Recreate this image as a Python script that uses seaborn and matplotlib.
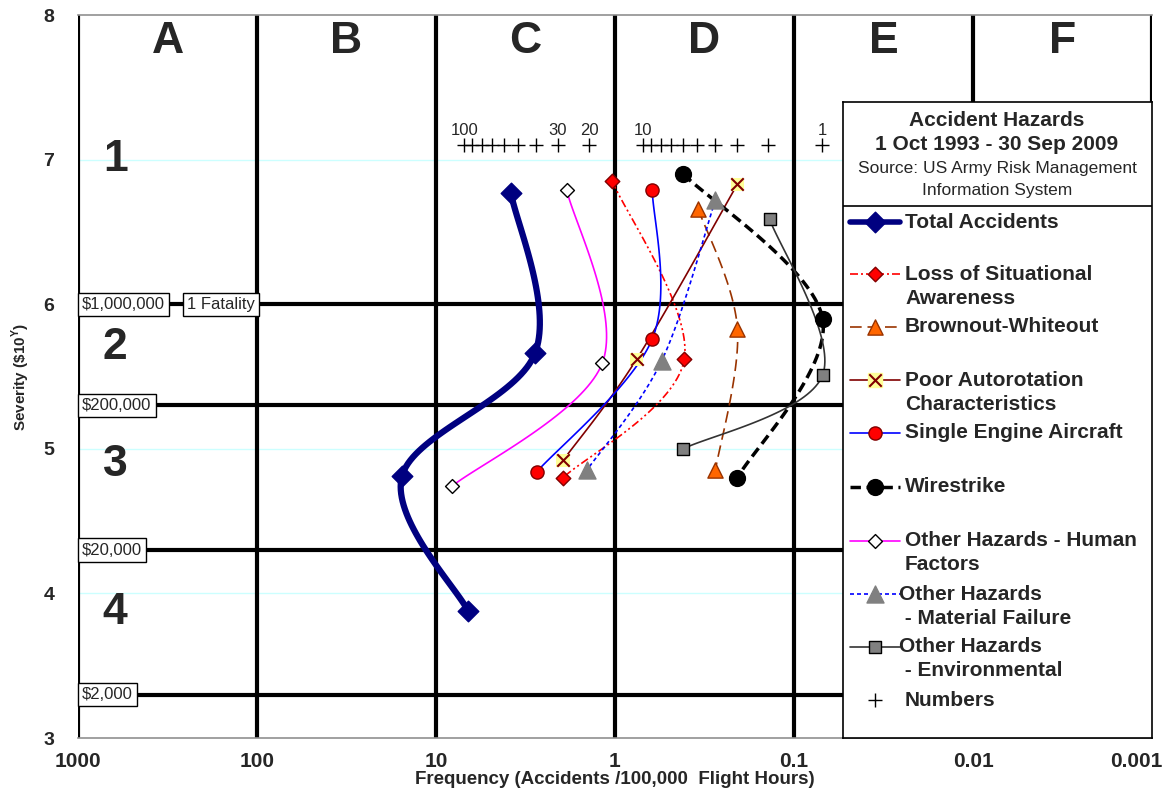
# %%
# === ACCIDENT HAZARDS RISK MATRIX (frequency vs severity) ===
import numpy as np
import matplotlib
matplotlib.use("Agg")
import matplotlib.pyplot as plt
import matplotlib.transforms as mtransforms
import seaborn as sns

sns.set_style("white")
plt.rcParams['font.family'] = 'Liberation Sans'
plt.rcParams['mathtext.fontset'] = 'custom'
plt.rcParams['mathtext.bf'] = 'Liberation Sans:bold'
plt.rcParams['mathtext.rm'] = 'Liberation Sans'

# === DATA ===
# x = frequency (accidents / 100,000 flight hours), y = severity (log10 of $)
total_x = [3.81, 2.80, 15.5, 6.63]
total_y = [6.77, 5.66, 4.81, 3.88]
lsa_x = [1.035, 0.410, 1.95]
lsa_y = [6.85, 5.62, 4.80]
brown_x = [0.343, 0.207, 0.275]
brown_y = [6.66, 5.83, 4.85]
auto_x = [0.207, 0.757, 1.95]
auto_y = [6.83, 5.62, 4.92]
single_x = [0.619, 0.619, 2.74]
single_y = [6.79, 5.76, 4.84]
wire_x = [0.415, 0.0692, 0.207]
wire_y = [6.90, 5.90, 4.80]
human_x = [1.86, 1.18, 8.17]
human_y = [6.79, 5.59, 4.74]
material_x = [0.275, 0.548, 1.44]
material_y = [6.72, 5.61, 4.85]
env_x = [0.137, 0.0692, 0.415]
env_y = [6.59, 5.51, 5.00]

# "Numbers" scale (accident counts placed on the frequency axis)
numbers_x = [6.95, 6.26, 5.56, 4.87, 4.17, 3.48, 2.78, 2.09, 1.39,
             0.695, 0.626, 0.556, 0.487, 0.417, 0.348, 0.278, 0.209, 0.139, 0.0695]
numbers_y = 7.1
number_labels = ['100', '30', '20', '10', '1']
number_label_x = [6.95, 2.09, 1.39, 0.695, 0.0695]

x_ticks = [1000, 100, 10, 1, 0.1, 0.01, 0.001]
x_tick_labels = ['1000', '100', '10', '1', '0.1', '0.01', '0.001']
y_ticks = [3, 4, 5, 6, 7, 8]

zone_letters = ['A', 'B', 'C', 'D', 'E', 'F']
zone_centers = [316, 31.6, 3.16, 0.316, 0.0316, 0.00316]
severity_rows = ['1', '2', '3', '4']
severity_row_y = [7.0, 5.70, 4.89, 3.87]
cost_labels = ['$1,000,000', '$200,000', '$20,000', '$2,000']
cost_levels = [6.0, 5.3, 4.3, 3.3]

series_names = [
    ['Total Accidents'],
    ['Loss of Situational', 'Awareness'],
    ['Brownout-Whiteout'],
    ['Poor Autorotation', 'Characteristics'],
    ['Single Engine Aircraft'],
    ['Wirestrike'],
    ['Other Hazards - Human', 'Factors'],
    ['Other Hazards', ' - Material Failure'],
    ['Other Hazards', ' - Environmental'],
    ['Numbers'],
]


def smooth(xs, ys, n=40):
    # Excel-like smoothed line: Catmull-Rom through the points in (log x, y)
    p = np.column_stack([np.log10(xs), ys])
    pts = np.vstack([p[0], p, p[-1]])
    t = np.linspace(0, 1, n)[:, None]
    segs = []
    for i in range(1, len(pts) - 2):
        p0, p1, p2, p3 = pts[i - 1:i + 3]
        segs.append(0.5 * (2 * p1 + (p2 - p0) * t
                           + (2 * p0 - 5 * p1 + 4 * p2 - p3) * t ** 2
                           + (-p0 + 3 * p1 - 3 * p2 + p3) * t ** 3))
    c = np.vstack(segs)
    return 10 ** c[:, 0], c[:, 1]


# style per series: line kwargs, marker kwargs
styles = [
    (total_x, total_y, dict(color='#000080', lw=4.5, ls='-'),
     dict(marker='D', s=110, color='#000080', edgecolor='#000080', linewidth=1)),
    (lsa_x, lsa_y, dict(color='#FF0000', lw=1.2, ls=(0, (4.8, 1.8, 1.2, 1.8, 1.2, 1.8))),
     dict(marker='D', s=55, color='#FF0000', edgecolor='#800000', linewidth=1)),
    (brown_x, brown_y, dict(color='#993300', lw=1.2, ls=(0, (7, 3.5))),
     dict(marker='^', s=120, color='#FF6600', edgecolor='#993300', linewidth=1)),
    (auto_x, auto_y, dict(color='#800000', lw=1.2, ls='-'), None),
    (single_x, single_y, dict(color='#0000FF', lw=1.2, ls='-'),
     dict(marker='o', s=90, color='#FF0000', edgecolor='#800000', linewidth=1)),
    (wire_x, wire_y, dict(color='black', lw=2.5, ls=(0, (3, 1.6))),
     dict(marker='o', s=130, color='black', edgecolor='black', linewidth=1)),
    (human_x, human_y, dict(color='#FF00FF', lw=1.2, ls='-'),
     dict(marker='D', s=50, color='white', edgecolor='black', linewidth=1)),
    (material_x, material_y, dict(color='#0000FF', lw=1.2, ls=(0, (2.4, 1.8))),
     dict(marker='^', s=150, color='#808080', edgecolor='#808080', linewidth=1)),
    (env_x, env_y, dict(color='#333333', lw=1.2, ls='-'),
     dict(marker='s', s=80, color='#808080', edgecolor='black', linewidth=1)),
]

# %%
# === FIGURE / AXES ===
W, H = 1167, 802
fig = plt.figure(figsize=(W / 100, H / 100), dpi=100)
ax = fig.add_axes([78 / W, 1 - 738 / H, 1074 / W, 723 / H])
ax.set_xscale('log')
ax.set_xlim(1000, 0.001)
ax.set_ylim(3, 8)

ax.set_xticks(x_ticks)
ax.set_xticklabels(x_tick_labels, fontsize=15, fontweight='bold')
ax.xaxis.set_minor_locator(matplotlib.ticker.NullLocator())
ax.set_yticks(y_ticks)
ax.set_yticklabels([str(v) for v in y_ticks], fontsize=14, fontweight='bold')
ax.tick_params(axis='x', direction='inout', length=8, width=1, pad=6, color='#404040')
ax.tick_params(axis='y', direction='out', length=7, width=1, pad=10, color='#404040')
# keep the last tick label inside the figure
last = ax.get_xticklabels()[-1]
last.set_transform(last.get_transform()
                   + mtransforms.ScaledTranslation(-16 / 100, 0, fig.dpi_scale_trans))
ax.set_xlabel('Frequency (Accidents /100,000  Flight Hours)', fontsize=13.5,
              fontweight='bold', labelpad=0)
ax.set_ylabel(r'Severity (\$10$^{\mathbf{Y}}$)', fontsize=11, fontweight='bold', labelpad=8)

for side in ['top', 'bottom']:
    ax.spines[side].set_color('#909090')
    ax.spines[side].set_linewidth(1.2)
for side in ['left', 'right']:
    ax.spines[side].set_visible(False)

# light cyan gridlines at whole severities
for v in [4, 5, 7]:
    ax.axhline(v, color='#CCFFFF', lw=1, zorder=0)

# thick matrix lines
for v in x_ticks:
    ax.axvline(v, color='black', lw=3, zorder=1)
for v in cost_levels:
    ax.axhline(v, color='black', lw=3, zorder=1)

# zone letters and severity classes
for lab, xc in zip(zone_letters, zone_centers):
    ax.text(xc, 7.82, lab, ha='center', va='center', fontsize=32, fontweight='bold')
for lab, yc in zip(severity_rows, severity_row_y):
    ax.text(620, yc, lab, ha='center', va='center', fontsize=32, fontweight='bold')

# cost boxes
box = dict(boxstyle='square,pad=0.25', fc='white', ec='black', lw=1)
for lab, yc in zip(cost_labels, cost_levels):
    ax.text(950, yc, lab, ha='left', va='center', fontsize=12, bbox=box, zorder=6)
ax.text(246, 6.0, '1 Fatality', ha='left', va='center', fontsize=12, bbox=box, zorder=6)

# %%
# === SERIES ===
for xs, ys, lkw, mkw in styles:
    sx, sy = smooth(xs, ys)
    sns.lineplot(x=sx, y=sy, sort=False, estimator=None, ax=ax, color=lkw['color'],
                 linewidth=lkw['lw'], linestyle=lkw['ls'], zorder=3)
    if mkw is not None:
        sns.scatterplot(x=xs, y=ys, ax=ax, zorder=4, **mkw)

# poor autorotation: x marker on a yellow square
sns.scatterplot(x=auto_x, y=auto_y, ax=ax, marker='s', s=90, color='#FFFF99',
                edgecolor='none', zorder=4)
ax.scatter(auto_x, auto_y, marker='x', s=80, color='#800000', linewidths=1.5, zorder=5)

# numbers scale
ax.scatter(numbers_x, [numbers_y] * len(numbers_x), marker='+', s=90,
           color='black', linewidths=1, zorder=4)
for lab, xv in zip(number_labels, number_label_x):
    ax.text(xv, 7.2, lab, ha='center', va='center', fontsize=12)

# %%
# === LEGEND PANEL (drawn in pixel coordinates) ===
lg = fig.add_axes([843 / W, 1 - 738 / H, 309 / W, 636 / H], zorder=10)
lg.set_xlim(843, 1152)
lg.set_ylim(738, 102)
lg.set_xticks([])
lg.set_yticks([])
lg.set_facecolor('white')
for s in lg.spines.values():
    s.set_color('black')
    s.set_linewidth(1.2)
lg.axhline(206, color='black', lw=1.2)

lg.text(997, 121, 'Accident Hazards', ha='center', va='center', fontsize=15, fontweight='bold')
lg.text(997, 145, '1 Oct 1993 - 30 Sep 2009', ha='center', va='center', fontsize=15,
        fontweight='bold')
lg.text(997, 168, 'Source: US Army Risk Management', ha='center', va='center', fontsize=12.5)
lg.text(997, 190, 'Information System', ha='center', va='center', fontsize=12.5)

entry_y = [222, 274, 327, 380, 433, 487, 541, 594, 647, 700]
for i, (names, yv) in enumerate(zip(series_names, entry_y)):
    if i < len(styles):
        lkw, mkw = styles[i][2], styles[i][3]
        lg.plot([850, 900], [yv, yv], color=lkw['color'], lw=min(lkw['lw'], 4),
                ls=lkw['ls'])
        if mkw is not None:
            lg.scatter([875], [yv], **mkw, zorder=4)
        else:
            lg.scatter([875], [yv], marker='s', s=90, color='#FFFF99', zorder=4)
            lg.scatter([875], [yv], marker='x', s=80, color='#800000', linewidths=1.5, zorder=5)
    else:
        lg.scatter([875], [yv], marker='+', s=90, color='black', linewidths=1)
    tx = 899 if i in (7, 8) else 905
    for k, line in enumerate(names):
        lg.text(tx, yv + k * 24, line, ha='left', va='center', fontsize=15, fontweight='bold')

fig.savefig('out.png', dpi=100)
